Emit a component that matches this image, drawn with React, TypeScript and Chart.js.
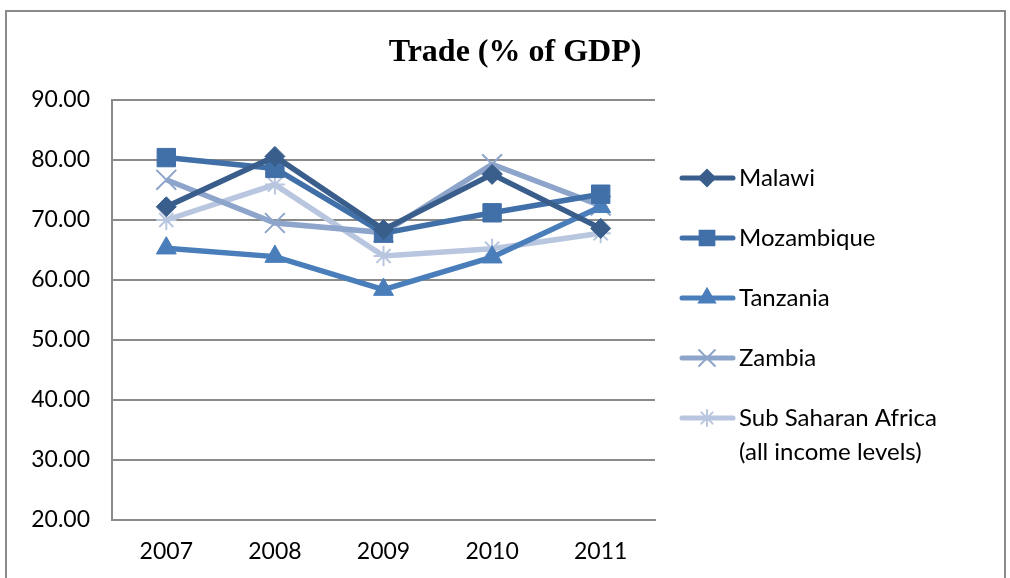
import React, { useEffect, useRef } from "react";
import { Chart, registerables } from "chart.js";
import { drawPoint } from "chart.js/helpers";

Chart.register(...registerables);

const title = "Trade (% of GDP)";
const years = ["2007", "2008", "2009", "2010", "2011"];
const seriesNames = ["Malawi", "Mozambique", "Tanzania", "Zambia", "Sub Saharan Africa (all income levels)"];
const legendLines = [["Malawi"], ["Mozambique"], ["Tanzania"], ["Zambia"], ["Sub Saharan Africa", "(all income levels)"]];
const malawi = [72.2, 80.6, 68.4, 77.6, 68.6];
const mozambique = [80.4, 78.6, 67.8, 71.2, 74.3];
const tanzania = [65.3, 63.9, 58.4, 63.8, 72.2];
const zambia = [76.7, 69.5, 67.9, 79.3, 72.4];
const ssa = [70.0, 75.9, 64.0, 65.2, 67.8];
const colors = ["#3A5E8C", "#4170A9", "#4A7EBB", "#8EA5CB", "#B9C6DF"];
const pointStyles = ["rectRot", "rect", "triangle", "crossRot", "star"];
const pointRadii = [10, 13, 11.5, 14, 10];
const yMin = 20;
const yMax = 90;
const yStep = 10;

const FONT = "Lato, 'Open Sans', sans-serif";

export default function App() {
  const ref = useRef<HTMLCanvasElement>(null);
  useEffect(() => {
    const canvas = ref.current!;
    const values = [malawi, mozambique, tanzania, zambia, ssa];
    const decor = {
      id: "decor",
      beforeDraw(chart: any) {
        const ctx = chart.ctx;
        ctx.save();
        ctx.fillStyle = "#ffffff";
        ctx.fillRect(0, 0, chart.width, chart.height);
        ctx.strokeStyle = "#8a8a8a";
        ctx.lineWidth = 2;
        ctx.strokeRect(6, 11, 999, 600);
        ctx.fillStyle = "#000";
        ctx.font = "bold 32px 'Liberation Serif', 'DejaVu Serif', serif";
        ctx.textAlign = "center";
        ctx.textBaseline = "alphabetic";
        ctx.fillText(title, 515, 61);
        ctx.restore();
      },
      afterDraw(chart: any) {
        const ctx = chart.ctx;
        ctx.save();
        const ys = [178, 238, 298, 358, 418];
        for (let i = 0; i < 5; i++) {
          const y = ys[i];
          ctx.strokeStyle = colors[i];
          ctx.lineWidth = 5;
          ctx.lineCap = "round";
          ctx.beginPath();
          ctx.moveTo(682, y);
          ctx.lineTo(733, y);
          ctx.stroke();
          ctx.fillStyle = colors[i];
          ctx.strokeStyle = colors[i];
          ctx.lineWidth = 2;
          drawPoint(ctx, { pointStyle: pointStyles[i] as any, radius: pointRadii[i] * 0.8, borderWidth: 2, rotation: 0 }, 707, y);
          ctx.fillStyle = "#000";
          ctx.font = "24px " + FONT;
          ctx.textAlign = "left";
          ctx.textBaseline = "middle";
          legendLines[i].forEach((t, j) => ctx.fillText(t, 739, y + j * 34));
        }
        ctx.restore();
      },
    };
    const chart = new Chart(canvas, {
      type: "line",
      data: {
        labels: years,
        datasets: values.map((v, i) => ({
          label: seriesNames[i],
          data: v,
          borderColor: colors[i],
          backgroundColor: colors[i],
          borderWidth: 5.5,
          pointStyle: pointStyles[i] as any,
          pointRadius: pointRadii[i],
          pointBorderWidth: i >= 3 ? 2 : 1,
          pointBorderColor: colors[i],
          pointBackgroundColor: colors[i],
          tension: 0,
          fill: false,
        })),
      },
      plugins: [decor],
      options: {
        responsive: false,
        animation: false,
        events: [],
        layout: { padding: { top: 100, right: 355, left: 0, bottom: 0 } },
        plugins: {
          legend: { display: false },
          title: { display: false },
          tooltip: { enabled: false },
        },
        scales: {
          x: {
            offset: true,
            grid: { display: false, drawTicks: false },
            border: { display: true, color: "#8a8a8a", width: 2 },
            ticks: { color: "#000", font: { family: FONT, size: 23 }, padding: 18 },
            afterFit(scale: any) {
              scale.height = 58;
            },
          },
          y: {
            min: yMin,
            max: yMax,
            grid: { color: "#8a8a8a", lineWidth: 2, drawTicks: false },
            border: { display: true, color: "#8a8a8a", width: 2 },
            ticks: {
              stepSize: yStep,
              color: "#000",
              font: { family: FONT, size: 23 },
              padding: 22,
              callback: (v: any) => Number(v).toFixed(2),
            },
            afterFit(scale: any) {
              scale.width = 112;
            },
          },
        },
      },
    });
    return () => chart.destroy();
  }, []);
  return (
    <div style={{ position: "absolute", left: 0, top: 0, width: 1010, height: 578 }}>
      <canvas ref={ref} width={1010} height={578} style={{ display: "block" }} />
    </div>
  );
}
